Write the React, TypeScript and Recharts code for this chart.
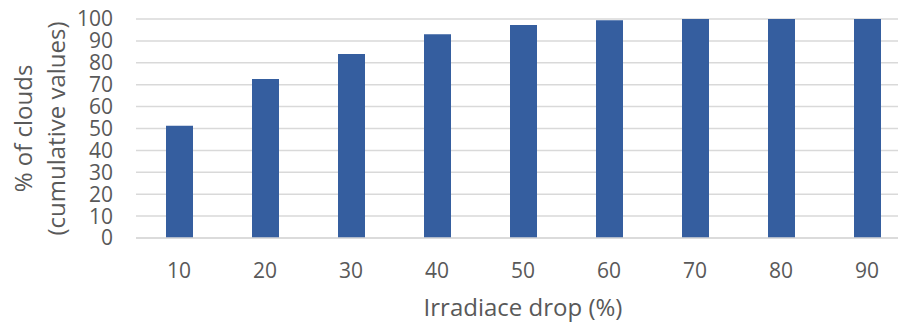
import React from 'react';
import { BarChart, Bar, XAxis, YAxis, CartesianGrid } from 'recharts';

const categories = ['10', '20', '30', '40', '50', '60', '70', '80', '90'];
const cumulative = [51.2, 72.6, 84.0, 93.0, 97.3, 99.4, 100, 100, 100];
const yTicks = [0, 10, 20, 30, 40, 50, 60, 70, 80, 90, 100];

const data = categories.map((c, i) => ({ drop: c, value: cumulative[i] }));

const FONT = '"Open Sans", "Liberation Sans", Arial, sans-serif';
const TEXT = '#595959';

const YLabel = (props: any) => {
  const { viewBox } = props;
  const cy = viewBox.y + viewBox.height / 2;
  return (
    <g fontFamily={FONT} fontSize={24} fill={TEXT}>
      <text x={22} y={cy} textAnchor="middle" dominantBaseline="central" transform={`rotate(-90 22 ${cy})`}>
        % of clouds
      </text>
      <text x={55} y={cy} textAnchor="middle" dominantBaseline="central" transform={`rotate(-90 55 ${cy})`}>
        (cumulative values)
      </text>
    </g>
  );
};

const App: React.FC = () => {
  return (
    <div style={{ position: 'absolute', left: 0, top: 0, width: 898, height: 324, overflow: 'hidden', background: '#fff' }}>
      <BarChart width={910} height={324} data={data} margin={{ top: 19, right: 0, bottom: 0, left: 0 }}>
        <CartesianGrid vertical={false} stroke="#d9d9d9" strokeWidth={1.5} />
        <XAxis
          dataKey="drop"
          height={86}
          tickSize={0}
          tickMargin={25}
          axisLine={{ stroke: '#d9d9d9', strokeWidth: 1.5 }}
          tick={{ fill: TEXT, fontSize: 21, fontFamily: FONT }}
          label={{ value: 'Irradiace drop (%)', position: 'insideBottom', offset: 8, fill: TEXT, fontSize: 24, fontFamily: FONT }}
        />
        <YAxis
          width={136}
          domain={[0, 100]}
          ticks={yTicks}
          interval={0}
          tickSize={0}
          tickMargin={23}
          axisLine={false}
          tick={{ fill: TEXT, fontSize: 21, fontFamily: FONT }}
          label={<YLabel />}
        />
        <Bar dataKey="value" fill="#355E9F" barSize={27} isAnimationActive={false} />
      </BarChart>
    </div>
  );
};

export default App;
